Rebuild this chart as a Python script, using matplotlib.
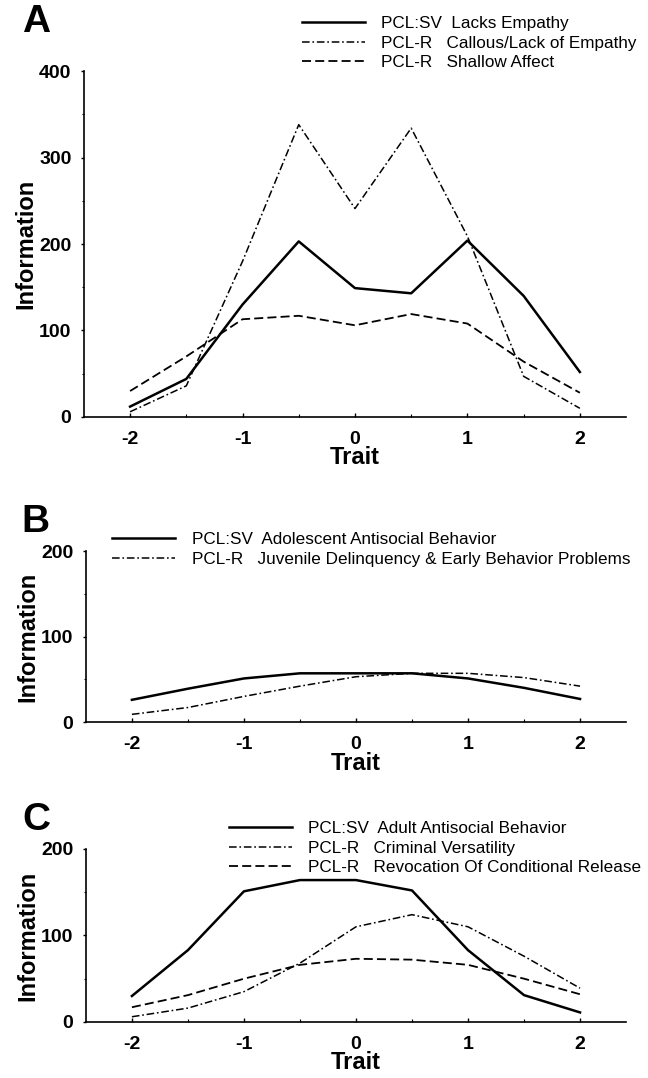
import matplotlib
matplotlib.use('Agg')
import matplotlib.pyplot as plt
from matplotlib.ticker import MultipleLocator

plt.rcParams['font.family'] = ['Liberation Sans', 'DejaVu Sans']
plt.rcParams['lines.scale_dashes'] = False
plt.rcParams['axes.unicode_minus'] = False

trait = [-2, -1.5, -1, -0.5, 0, 0.5, 1, 1.5, 2]

# panel A
lacks_empathy = [12, 44, 130, 203, 149, 143, 204, 140, 52]
callous = [6, 36, 180, 338, 241, 334, 209, 47, 10]
shallow_affect = [30, 70, 113, 117, 106, 119, 108, 64, 28]
labels_a = ['PCL:SV  Lacks Empathy',
            'PCL-R   Callous/Lack of Empathy',
            'PCL-R   Shallow Affect']

# panel B
adolescent = [26, 39, 51, 57, 57, 57, 51, 40, 27]
juvenile = [9, 17, 30, 42, 53, 57, 57, 52, 42]
labels_b = ['PCL:SV  Adolescent Antisocial Behavior',
            'PCL-R   Juvenile Delinquency & Early Behavior Problems']

# panel C
adult = [30, 83, 151, 164, 164, 152, 83, 31, 11]
versatility = [6, 16, 35, 68, 110, 124, 110, 76, 39]
revocation = [17, 31, 50, 66, 73, 72, 66, 50, 32]
labels_c = ['PCL:SV  Adult Antisocial Behavior',
            'PCL-R   Criminal Versatility',
            'PCL-R   Revocation Of Conditional Release']

SOLID = dict(color='black', lw=1.8, linestyle='-')
DASHDOT = dict(color='black', lw=1.1, dashes=(5.5, 2, 1.2, 2))
DASHED = dict(color='black', lw=1.3, dashes=(6.5, 3))


def style_axes(ax, ymax):
    ax.set_xlim(-2.41, 2.41)
    ax.set_ylim(0, ymax)
    ax.set_xticks([-2, -1, 0, 1, 2])
    ax.set_yticks(range(0, ymax + 1, 100))
    ax.xaxis.set_minor_locator(MultipleLocator(0.5))
    ax.yaxis.set_minor_locator(MultipleLocator(50))
    for s in ['top', 'right']:
        ax.spines[s].set_visible(False)
    for s in ['left', 'bottom']:
        ax.spines[s].set_linewidth(1.2)
    ax.tick_params(axis='x', which='major', direction='in', length=3, width=1,
                   pad=10, labelsize=14)
    ax.tick_params(axis='x', which='minor', direction='in', length=2, width=0.8)
    ax.tick_params(axis='y', which='major', direction='out', length=2.5, width=1,
                   pad=6.5, labelsize=14)
    ax.tick_params(axis='y', which='minor', direction='out', length=1.5, width=0.8)
    for lbl in ax.get_xticklabels() + ax.get_yticklabels():
        lbl.set_fontweight('bold')
    ax.set_xlabel('Trait', fontsize=17, fontweight='bold', labelpad=-1)
    ax.set_ylabel('Information', fontsize=17, fontweight='bold', labelpad=1.5)


def add_legend(ax, x, y):
    ax.legend(loc='upper left', bbox_to_anchor=(x, y), bbox_transform=fig.transFigure,
              frameon=False, fontsize=12.3, handlelength=3.7, handletextpad=0.95,
              labelspacing=0.27, borderpad=0, borderaxespad=0)


fig = plt.figure(figsize=(6.48, 10.78), dpi=100)

ax_a = fig.add_axes([0.1296, 0.6132, 0.8364, 0.3209])
ax_a.plot(trait, lacks_empathy, label=labels_a[0], **SOLID)
ax_a.plot(trait, callous, label=labels_a[1], **DASHDOT)
ax_a.plot(trait, shallow_affect, label=labels_a[2], **DASHED)
style_axes(ax_a, 400)
add_legend(ax_a, 0.466, 0.9852)

ax_b = fig.add_axes([0.1327, 0.3302, 0.8333, 0.1586])
ax_b.plot(trait, adolescent, label=labels_b[0], **SOLID)
ax_b.plot(trait, juvenile, label=labels_b[1], **DASHDOT)
style_axes(ax_b, 200)
add_legend(ax_b, 0.173, 0.5065)

ax_c = fig.add_axes([0.1327, 0.0520, 0.8333, 0.1605])
ax_c.plot(trait, adult, label=labels_c[0], **SOLID)
ax_c.plot(trait, versatility, label=labels_c[1], **DASHDOT)
ax_c.plot(trait, revocation, label=labels_c[2], **DASHED)
style_axes(ax_c, 200)
add_legend(ax_c, 0.353, 0.2384)

for letter, x, y in [('A', 36, 22), ('B', 35, 522), ('C', 36, 820)]:
    fig.text(x / 648, 1 - y / 1078, letter, fontsize=28, fontweight='bold',
             ha='center', va='center')

fig.savefig('out.png', dpi=100)
